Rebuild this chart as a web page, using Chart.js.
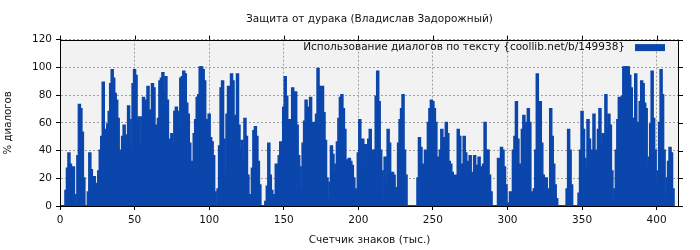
<!DOCTYPE html>
<html>
<head>
<meta charset="utf-8">
<script src="https://cdn.jsdelivr.net/npm/chart.js@4.4.0/dist/chart.umd.min.js"></script>
<style>
  html, body { margin: 0; padding: 0; background: #fff; }
  #wrap { width: 700px; height: 250px; }
</style>
</head>
<body>
<div id="wrap"><canvas id="chart"></canvas></div>
<script>
const chartTitle = 'Защита от дурака (Владислав Задорожный)';
const seriesLabel = 'Использование диалогов по тексту {coollib.net/b/149938}';
const xTitle = 'Счетчик знаков (тыс.)';
const yTitle = '% диалогов';

// thousands of characters, first bar sits at 1
const firstKb = 1;
// % of dialogue per thousand characters
const dialogShare = [
    0, 0, 0, 11, 27, 38, 30, 15, 28, 8,
    0, 36, 73, 70, 53, 20, 0, 0, 10, 38,
    26, 10, 21, 16, 11, 25, 40, 50, 89, 55,
    49, 59, 68, 88, 98, 92, 81, 76, 63, 40,
    33, 50, 58, 50, 51, 72, 62, 42, 88, 98,
    94, 60, 64, 43, 64, 78, 73, 76, 86, 69,
    50, 88, 85, 58, 32, 63, 90, 92, 96, 81,
    93, 76, 46, 48, 52, 45, 68, 71, 68, 55,
    92, 93, 97, 95, 74, 66, 45, 18, 32, 52,
    62, 78, 80, 100, 100, 98, 90, 50, 62, 66,
    49, 46, 36, 10, 0, 12, 43, 85, 90, 48,
    22, 66, 86, 84, 95, 90, 64, 65, 95, 58,
    40, 47, 33, 63, 50, 22, 8, 5, 27, 54,
    57, 50, 32, 15, 0, 0, 0, 3, 14, 45,
    22, 11, 0, 8, 30, 18, 36, 46, 35, 71,
    93, 79, 6, 62, 53, 85, 64, 82, 58, 36,
    28, 12, 45, 61, 76, 71, 58, 78, 56, 60,
    18, 66, 99, 86, 78, 86, 67, 47, 20, 5,
    17, 43, 37, 23, 30, 46, 63, 78, 80, 70,
    55, 33, 22, 34, 32, 29, 20, 12, 8, 38,
    62, 16, 48, 28, 44, 12, 48, 55, 34, 40,
    40, 79, 97, 75, 40, 25, 6, 35, 15, 55,
    45, 22, 24, 22, 13, 4, 45, 62, 70, 80,
    40, 22, 0, 0, 0, 0, 0, 0, 0, 20,
    49, 42, 30, 20, 40, 30, 60, 70, 76, 75,
    70, 60, 35, 22, 40, 55, 49, 44, 60, 52,
    32, 30, 24, 14, 22, 1, 55, 50, 15, 30,
    50, 38, 28, 32, 36, 24, 22, 36, 15, 29,
    35, 28, 20, 30, 60, 40, 40, 22, 10, 0,
    0, 0, 0, 34, 20, 42, 40, 28, 15, 0,
    2, 10, 5, 40, 50, 75, 48, 30, 24, 55,
    65, 36, 60, 70, 60, 10, 4, 12, 40, 95,
    65, 75, 45, 22, 12, 20, 10, 12, 70, 50,
    30, 15, 5, 0, 0, 0, 0, 0, 0, 12,
    55, 40, 15, 0, 0, 0, 0, 9, 40, 68,
    55, 34, 26, 62, 48, 19, 40, 66, 40, 22,
    55, 70, 45, 52, 50, 80, 55, 66, 58, 25,
    3, 12, 40, 62, 78, 72, 79, 100, 100, 100,
    100, 94, 85, 63, 63, 95, 60, 42, 75, 90,
    88, 74, 70, 25, 35, 59, 97, 63, 40, 17,
    25, 60, 98, 80, 40, 8, 20, 32, 42, 38,
    12
];
const xTicks = [0, 50, 100, 150, 200, 250, 300, 350, 400];
const yTicks = [0, 20, 40, 60, 80, 100, 120];

const barColor = '#0a46ab';
const fontFamily = '"DejaVu Sans", sans-serif';

const points = dialogShare.map((v, i) => ({ x: firstKb + i, y: v }));

// grey plot background, title centred over the plot
const plotBackground = {
    id: 'plotBackground',
    afterLayout(chart) {
        if (chart.titleBlock) {
            chart.titleBlock.left = chart.chartArea.left;
            chart.titleBlock.right = chart.chartArea.right;
        }
    },
    beforeDraw(chart) {
        const { ctx, chartArea: a } = chart;
        ctx.save();
        ctx.fillStyle = '#f2f2f2';
        ctx.fillRect(a.left, a.top, a.right - a.left, a.bottom - a.top);
        ctx.restore();
    }
};

// closed frame, mirrored ticks and legend inside the plot
const frameAndLegend = {
    id: 'frameAndLegend',
    afterDraw(chart) {
        const { ctx, chartArea: a, scales } = chart;
        ctx.save();
        ctx.strokeStyle = '#000';
        ctx.lineWidth = 1;
        ctx.strokeRect(Math.round(a.left) + 0.5, Math.round(a.top) + 0.5,
            Math.round(a.right - a.left) - 1, Math.round(a.bottom - a.top));
        ctx.beginPath();
        xTicks.forEach(v => {
            const px = Math.round(scales.x.getPixelForValue(v)) + 0.5;
            ctx.moveTo(px, a.top);
            ctx.lineTo(px, a.top - 4);
        });
        yTicks.forEach(v => {
            const py = Math.round(scales.y.getPixelForValue(v)) + 0.5;
            ctx.moveTo(a.right, py);
            ctx.lineTo(a.right + 4, py);
        });
        ctx.stroke();

        const boxRight = a.right - 14;
        const boxW = 30;
        const midY = a.top + 8;
        ctx.fillStyle = barColor;
        ctx.fillRect(boxRight - boxW, midY - 3.5, boxW, 7);
        ctx.fillStyle = '#111';
        ctx.font = '10.5px ' + fontFamily;
        ctx.textAlign = 'right';
        ctx.textBaseline = 'middle';
        ctx.fillText(seriesLabel, boxRight - boxW - 10, midY);
        ctx.restore();
    }
};

new Chart(document.getElementById('chart'), {
    type: 'bar',
    data: {
        datasets: [{
            label: seriesLabel,
            data: points,
            backgroundColor: barColor,
            borderWidth: 0,
            inflateAmount: 1,
            barPercentage: 1,
            categoryPercentage: 1
        }]
    },
    options: {
        responsive: true,
        maintainAspectRatio: false,
        animation: false,
        layout: { padding: { left: 0, right: 21, top: 0, bottom: 0 } },
        plugins: {
            legend: { display: false },
            tooltip: { enabled: false },
            title: {
                display: true,
                text: chartTitle,
                color: '#111',
                font: { family: fontFamily, size: 10.5, weight: 'normal' },
                padding: { top: 13, bottom: 14 }
            }
        },
        scales: {
            x: {
                type: 'linear',
                min: 0,
                max: 415,
                offset: false,
                afterBuildTicks(scale) { scale.ticks = xTicks.map(v => ({ value: v })); },
                afterFit(scale) { scale.height = 44; },
                grid: { offset: false, color: '#a0a0a0', tickColor: '#000', tickLength: 4 },
                border: { display: true, color: '#000', dash: [2, 2] },
                ticks: { color: '#111', padding: 4, maxRotation: 0, autoSkip: false,
                    font: { family: fontFamily, size: 10.5 } },
                title: { display: true, text: xTitle, color: '#111',
                    font: { family: fontFamily, size: 10.5 }, padding: { top: 0, bottom: 3 } }
            },
            y: {
                min: 0,
                max: 120,
                afterBuildTicks(scale) { scale.ticks = yTicks.map(v => ({ value: v })); },
                afterFit(scale) { scale.width = 60; },
                grid: { color: '#a0a0a0', tickColor: '#000', tickLength: 4 },
                border: { display: true, color: '#000', dash: [2, 2] },
                ticks: { color: '#111', padding: 4, font: { family: fontFamily, size: 10.5 } },
                title: { display: true, text: yTitle, color: '#111',
                    font: { family: fontFamily, size: 10.2 }, padding: { top: 2, bottom: 0 } }
            }
        }
    },
    plugins: [plotBackground, frameAndLegend]
});
</script>
</body>
</html>
